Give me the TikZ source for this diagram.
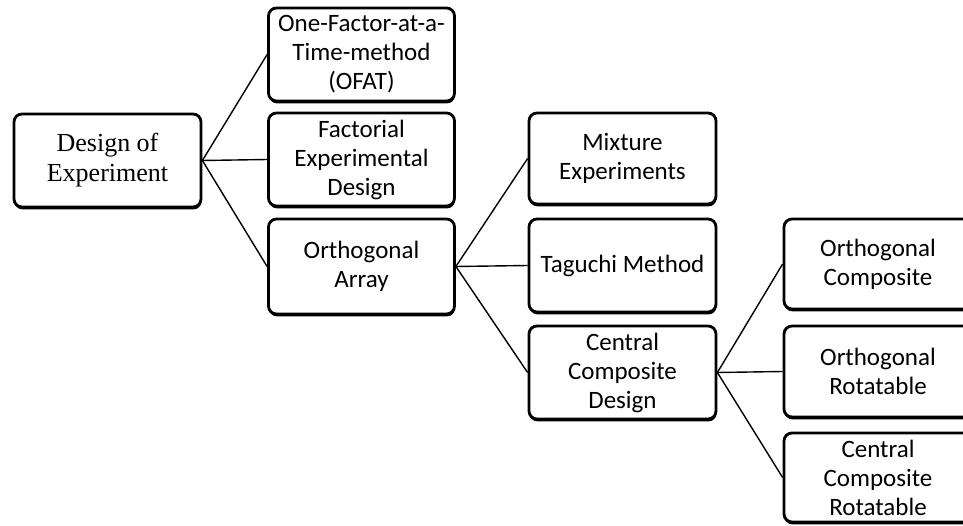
\documentclass[tikz,border=0pt]{standalone}
\usepackage{fontspec}
\setmainfont{Carlito}
\newfontfamily\serifroot{Liberation Serif}
\usetikzlibrary{shadows}
\begin{document}
\begin{tikzpicture}[x=1pt,y=-1pt,
  box/.style={draw, line width=2.8pt, rounded corners=8pt, fill=white,
    align=center, inner sep=0pt, minimum width=186pt, minimum height=93pt,
    font=\fontsize{25}{29}\selectfont,
    drop shadow={shadow xshift=0.5pt, shadow yshift=-2.4pt, opacity=1, fill=black}},
  link/.style={line width=1.4pt}]
\useasboundingbox (0,0) rectangle (963,526);
\clip (0,0) rectangle (963,526);
% root
\node[box, minimum width=187pt, font=\serifroot\fontsize{26}{30}\selectfont] (root) at (107.5,160.5) {Design of\\Experiment};
% level 1
\node[box] (ofat) at (361.5,54.5) {One-Factor-at-a-\\Time-method\\(OFAT)};
\node[box] (fed) at (361.5,159.5) {Factorial\\Experimental\\Design};
\node[box, minimum height=95pt] (oa) at (361.5,266.5) {Orthogonal\\Array};
% level 2
\node[box, minimum width=187pt, minimum height=91pt] (mix) at (622.5,158.5) {Mixture\\Experiments};
\node[box, minimum width=187pt] (tag) at (622.5,265.5) {Taguchi Method};
\node[box, minimum width=187pt] (ccd) at (622.5,372.5) {Central\\Composite\\Design};
% level 3
\node[box, minimum width=188pt, minimum height=90pt] (oc) at (878,264) {Orthogonal\\Composite};
\node[box, minimum width=188pt, minimum height=91pt] (or) at (878,371.5) {Orthogonal\\Rotatable};
\node[box, minimum width=188pt, minimum height=89pt] (ccr) at (878,477.5) {Central\\Composite\\Rotatable};
% connectors
\draw[link] (root.east) -- (ofat.west);
\draw[link] (root.east) -- (fed.west);
\draw[link] (root.east) -- (oa.west);
\draw[link] (oa.east) -- (mix.west);
\draw[link] (oa.east) -- (tag.west);
\draw[link] (oa.east) -- (ccd.west);
\draw[link] (ccd.east) -- (oc.west);
\draw[link] (ccd.east) -- (or.west);
\draw[link] (ccd.east) -- (ccr.west);
\end{tikzpicture}
\end{document}
